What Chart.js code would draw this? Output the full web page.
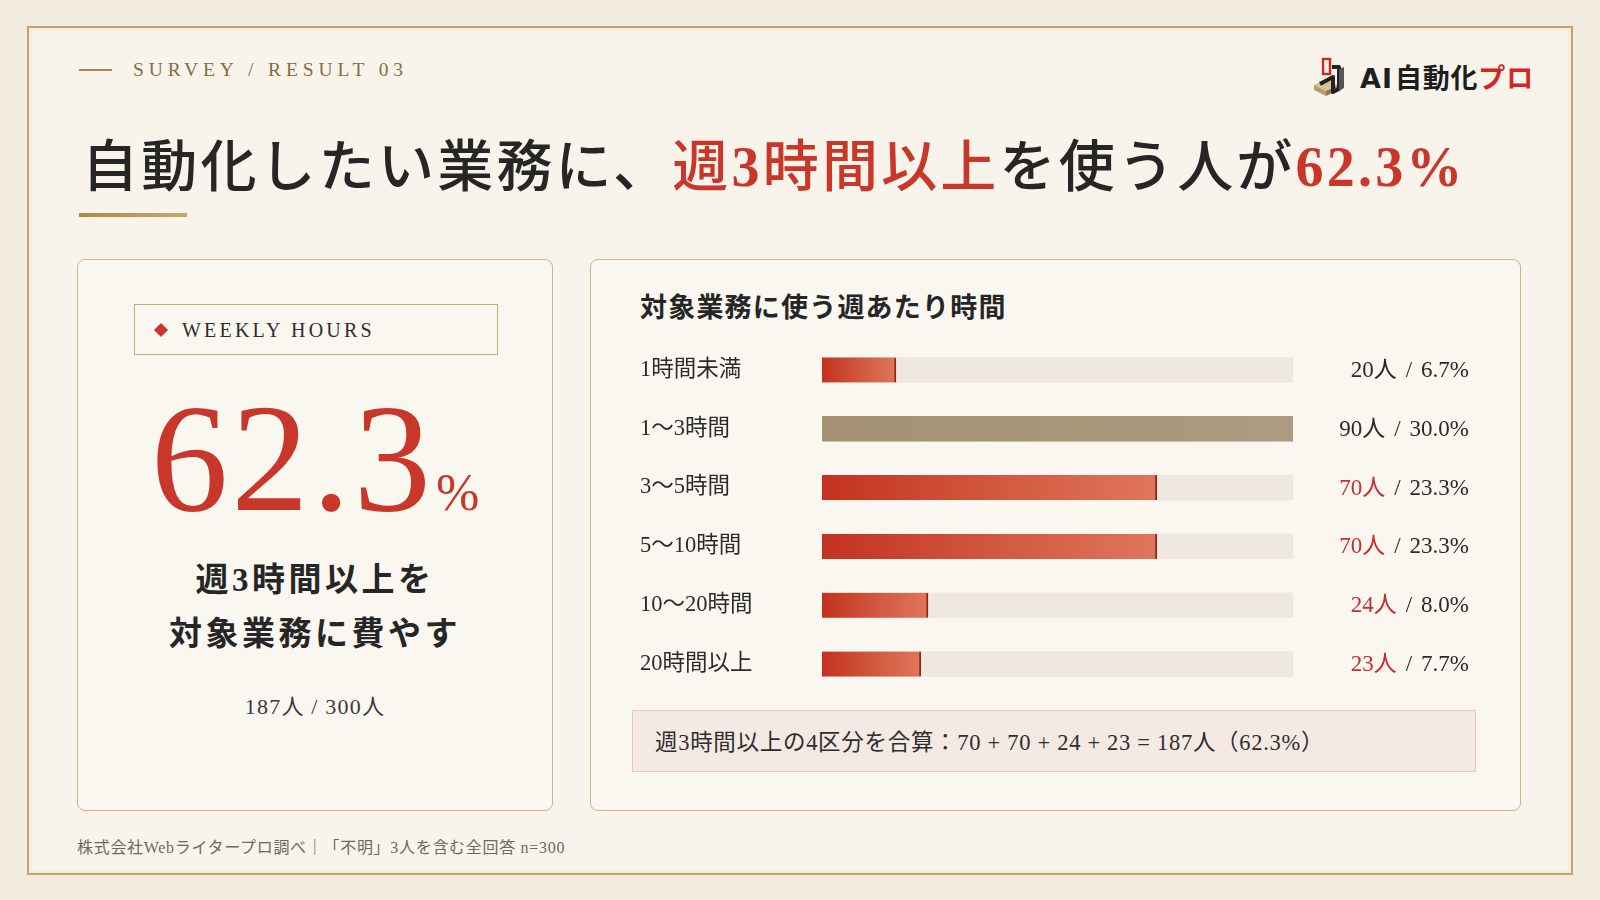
<!DOCTYPE html>
<html lang="ja">
<head>
<meta charset="utf-8">
<title>週あたり時間</title>
<script src="https://cdn.jsdelivr.net/npm/chart.js@4.4.1/dist/chart.umd.min.js"></script>
<style>
html,body{margin:0;padding:0;}
body{width:1600px;height:900px;background:#f2ebe0;position:relative;overflow:hidden;
  font-family:'Liberation Serif','Noto Sans CJK JP',serif;color:#2a2a2a;}
.abs{position:absolute;}
.frame{left:27px;top:26px;width:1546px;height:849px;border:2px solid #c4a468;box-sizing:border-box;
  background:#f8f4ec;box-shadow:inset 0 0 0 3px #f3ece0;}
.survey-line{left:79px;top:69px;width:33px;height:1.5px;background:#a88a4f;}
.survey{left:133px;top:58px;line-height:24px;font-size:19.5px;letter-spacing:4.9px;color:#8a6d36;}
.logo-text{left:1360px;top:60px;line-height:34px;font-size:27px;font-weight:700;
  font-family:'Noto Sans CJK JP',sans-serif;color:#1e1e1e;letter-spacing:0.8px;}
.logo-text .ai{font-family:'DejaVu Sans','Noto Sans',sans-serif;font-weight:700;letter-spacing:1px;margin-right:2px;}
.logo-text .pro{color:#d0281e;}
.title{left:82px;top:131px;line-height:72px;font-size:56px;font-weight:500;color:#262626;letter-spacing:3.2px;white-space:nowrap;}
.title .num{font-family:'Liberation Serif',serif;font-weight:700;}
.red{color:#c8372a;}
.underline{left:79px;top:213px;width:108px;height:4px;background:linear-gradient(90deg,#b08a45,#c9a868);}
.card{border:1.5px solid #d3b57e;border-radius:8px;background:#faf7f1;box-sizing:border-box;}
.lcard{left:77px;top:259px;width:476px;height:552px;}
.rcard{left:590px;top:259px;width:931px;height:552px;}
.wbox{left:134px;top:304px;width:364px;height:51px;border:1.5px solid #c9ad78;box-sizing:border-box;}
.diamond{left:156px;top:325px;width:10px;height:10px;background:#c8372a;transform:rotate(45deg);}
.weekly{left:182px;top:316px;line-height:28px;font-size:20px;letter-spacing:3.2px;color:#2e2e2e;}
.big{left:77px;top:383px;width:476px;text-align:center;line-height:150px;font-size:155px;color:#c8372a;
  font-family:'Liberation Serif',serif;letter-spacing:3px;white-space:nowrap;}
.big .pct{font-size:52px;letter-spacing:0;margin-left:2px;}
.sub{left:77px;top:553px;width:476px;text-align:center;font-size:33px;line-height:54px;font-weight:700;
  letter-spacing:3.5px;color:#262626;}
.ratio{left:77px;top:694px;width:476px;text-align:center;font-size:22px;line-height:26px;color:#3a3a3a;letter-spacing:1.2px;}
.ctitle{left:640px;top:290px;line-height:36px;font-size:27px;font-weight:700;letter-spacing:1.2px;color:#262626;}
.chartwrap{left:630px;top:327px;width:860px;height:380px;}
.sumbox{left:632px;top:710px;width:844px;height:62px;background:#f5e9e3;border:1px solid #e8c9bf;box-sizing:border-box;}
.sumtext{left:655px;top:712px;line-height:62px;font-size:22.5px;color:#2e2e2e;white-space:nowrap;letter-spacing:0.7px;}
.foot{left:77px;top:838px;line-height:20px;font-size:16px;color:#6e6861;white-space:nowrap;letter-spacing:0.7px;}
</style>
</head>
<body>
<script>
// ---- data ----
const categories = ['1時間未満', '1〜3時間', '3〜5時間', '5〜10時間', '10〜20時間', '20時間以上'];
const counts = [20, 90, 70, 70, 24, 23];
const shares = [6.7, 30.0, 23.3, 23.3, 8.0, 7.7];
// drawn bar length as a share of the full track (%), as measured in the picture
const barLengths = [15.7, 100, 71.1, 71.1, 22.5, 21.0];
const trackValues = [100, 100, 100, 100, 100, 100];
const atLeast3h = [false, false, true, true, true, true];
const totalRespondents = 300;
const summaryTerms = [70, 70, 24, 23];
const summaryTotal = 187;
const summaryShare = 62.3;
</script>

<div class="abs frame"></div>
<div class="abs survey-line"></div>
<div class="abs survey">SURVEY / RESULT 03</div>

<svg class="abs" style="left:1308px;top:55px" width="46" height="42" viewBox="0 0 46 42">
  <polygon points="6,30 18,24 30,30 18,36" fill="#d9c49a"/>
  <polygon points="6,30 18,36 18,41 6,35" fill="#b79c6c"/>
  <polygon points="18,36 30,30 30,35 18,41" fill="#8d7650"/>
  <rect x="15" y="4" width="7" height="15" fill="none" stroke="#d0281e" stroke-width="2.4"/>
  <path d="M24 12 L31 12 L31 34 L25 37 L25 22 L12 29" fill="none" stroke="#222" stroke-width="4" stroke-linejoin="round"/>
  <polygon points="31,14 36,12 36,33 31,36" fill="#555"/>
</svg>
<div class="abs logo-text"><span class="ai">AI</span>自動化<span class="pro">プロ</span></div>

<div class="abs title">自動化したい業務に、<span class="red">週<span class="num">3</span>時間以上</span>を使う人が<span class="red num">62.3%</span></div>
<div class="abs underline"></div>

<div class="abs card lcard"></div>
<div class="abs wbox"></div>
<div class="abs diamond"></div>
<div class="abs weekly">WEEKLY HOURS</div>
<div class="abs big" id="big"></div>
<div class="abs sub">週3時間以上を<br>対象業務に費やす</div>
<div class="abs ratio" id="ratio"></div>

<div class="abs card rcard"></div>
<div class="abs ctitle">対象業務に使う週あたり時間</div>
<div class="abs chartwrap"><canvas id="chart" width="860" height="380"></canvas></div>
<div class="abs sumbox"></div>
<div class="abs sumtext" id="sum"></div>
<div class="abs foot">株式会社Webライタープロ調べ｜「不明」3人を含む全回答 n=300</div>

<script>
document.getElementById('big').innerHTML = summaryShare.toFixed(1) + '<span class="pct">%</span>';
document.getElementById('ratio').textContent = summaryTotal + '人 / ' + totalRespondents + '人';
document.getElementById('sum').textContent =
  '週3時間以上の4区分を合算：' + summaryTerms.join(' + ') + ' = ' + summaryTotal + '人（' + summaryShare.toFixed(1) + '%）';

const FONT = "'Liberation Serif', 'Noto Sans CJK JP', serif";
const maxCount = Math.max(...counts);

function barFill(ctx) {
  const chart = ctx.chart, i = ctx.dataIndex;
  const xs = chart.scales.x;
  const neutral = counts[i] === maxCount;
  if (!xs || !chart.chartArea) return neutral ? '#a89579' : '#c8372a';
  const x0 = xs.getPixelForValue(0), x1 = xs.getPixelForValue(barLengths[i]);
  const g = chart.ctx.createLinearGradient(x0, 0, x1, 0);
  if (neutral) { g.addColorStop(0, '#a59172'); g.addColorStop(1, '#ac9b80'); }
  else { g.addColorStop(0, '#c4321f'); g.addColorStop(0.55, '#d25a40'); g.addColorStop(1, '#e0765b'); }
  return g;
}

const valueLabels = {
  id: 'valueLabels',
  afterDatasetsDraw(chart) {
    const c = chart.ctx, ys = chart.scales.y;
    const rightX = 839;
    const gap = 9;
    c.save();
    c.font = "23px " + FONT;
    c.textBaseline = 'middle';
    c.textAlign = 'left';
    categories.forEach((_, i) => {
      const y = ys.getPixelForValue(i) + 1;
      const a = counts[i] + '人';
      const s = '/';
      const b = shares[i].toFixed(1) + '%';
      const wa = c.measureText(a).width, ws = c.measureText(s).width, wb = c.measureText(b).width;
      let x = rightX - wa - ws - wb - 2 * gap;
      c.fillStyle = atLeast3h[i] ? '#c62f2f' : '#2a2a2a';
      c.fillText(a, x, y);
      c.fillStyle = '#2a2a2a';
      c.fillText(s, x + wa + gap, y);
      c.fillText(b, x + wa + gap + ws + gap, y);
    });
    c.restore();
  }
};

new Chart(document.getElementById('chart'), {
  type: 'bar',
  data: {
    labels: categories,
    datasets: [
      {
        label: '人数',
        data: barLengths,
        backgroundColor: barFill,
        borderColor: (ctx) => counts[ctx.dataIndex] === maxCount ? 'rgba(0,0,0,0)' : '#8e2a1d',
        borderWidth: (ctx) => counts[ctx.dataIndex] === maxCount ? 0 : { top: 0, bottom: 0, left: 0, right: 2 },
        borderSkipped: 'start',
        barThickness: 25,
        grouped: false,
        order: 0
      },
      {
        label: 'track',
        data: trackValues,
        backgroundColor: '#efe8e1',
        borderWidth: 0,
        barThickness: 25,
        grouped: false,
        order: 1
      }
    ]
  },
  options: {
    indexAxis: 'y',
    responsive: false,
    animation: false,
    devicePixelRatio: 1,
    layout: { padding: { left: 10, right: 197, top: 0, bottom: 0 } },
    plugins: { legend: { display: false }, tooltip: { enabled: false } },
    scales: {
      x: { display: false, min: 0, max: 100 },
      y: {
        grid: { display: false },
        border: { display: false },
        ticks: { crossAlign: 'far', color: '#2b2b2b', font: { family: FONT, size: 22.5 }, padding: 0 },
        afterFit: (scale) => { scale.width = 182; }
      }
    }
  },
  plugins: [valueLabels]
});
</script>
</body>
</html>
